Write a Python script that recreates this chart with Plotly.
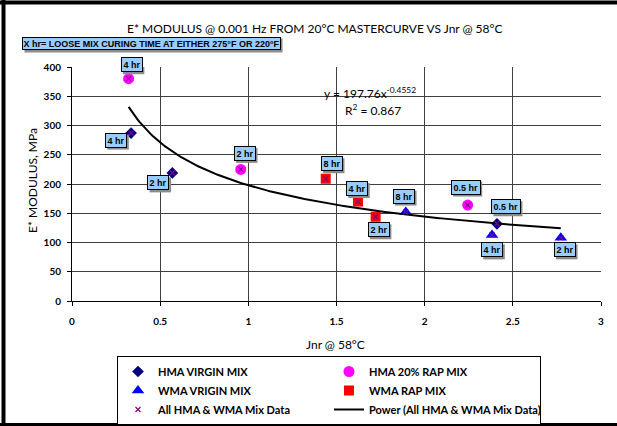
import numpy as np
import plotly.graph_objects as go

# ---------------- data ----------------
HMA_VIRGIN_JNR = [0.335, 0.569, 2.41]
HMA_VIRGIN_E = [287, 219, 132]
HMA_VIRGIN_LBL = ["4 hr", "2 hr", "0.5 hr"]

HMA_RAP_JNR = [0.321, 0.957, 2.244]
HMA_RAP_E = [380, 225, 164]
HMA_RAP_LBL = ["4 hr", "2 hr", "0.5 hr"]

WMA_VIRGIN_JNR = [1.893, 2.382, 2.772]
WMA_VIRGIN_E = [152, 113, 108]
WMA_VIRGIN_LBL = ["8 hr", "4 hr", "2 hr"]

WMA_RAP_JNR = [1.439, 1.622, 1.722]
WMA_RAP_E = [209, 170, 144]
WMA_RAP_LBL = ["8 hr", "4 hr", "2 hr"]

POWER_A = 197.76
POWER_B = -0.4552
R_SQUARED = 0.867

X_TICKS = [0, 0.5, 1, 1.5, 2, 2.5, 3]
Y_TICKS = [0, 50, 100, 150, 200, 250, 300, 350, 400]

TITLE = "E* MODULUS @ 0.001 Hz FROM 20°C MASTERCURVE VS Jnr @ 58°C"
NOTE = "X hr= LOOSE MIX CURING TIME AT EITHER 275°F OR 220°F"
X_TITLE = "Jnr @ 58°C"
Y_TITLE = "E* MODULUS, MPa"

# ---------------- layout helpers ----------------
W, H = 617, 426
ML, MR, MT, MB = 72, 16, 67, 125
PW, PH = W - ML - MR, H - MT - MB


def pxx(x):
    return (x - ML) / PW


def pxy(y):
    return (H - MB - y) / PH


FONT = "Lato, 'Open Sans', sans-serif"
BOXFONT = "Arial, 'Liberation Sans', sans-serif"
BOXFILL = "#99CCFF"
SHADOW = "#8c8c8c"

# approx Arial-bold advance widths (per 1000 em) for label box shadows
ARIAL_B = {"0": 556, "1": 556, "2": 556, "4": 556, "5": 556, "8": 556,
           ".": 278, " ": 278, "h": 611, "r": 389}
LBL_FS = 9
LBL_PAD = 1.5

# label offsets (pixels, right / down) for each point's time label
LABEL_OFFSETS = {
    "hv": [(-15, 7), (-14, 10), (9, -17)],
    "hr": [(3, -14), (4, -16), (-2, -18)],
    "wv": [(-2, -16), (0, 15), (4, 12)],
    "wr": [(6, -15), (-1, -13), (3, 13)],
}

fig = go.Figure()

series = [
    ("hv", "HMA VIRGIN MIX", HMA_VIRGIN_JNR, HMA_VIRGIN_E, HMA_VIRGIN_LBL,
     dict(symbol="diamond", size=9, color="#000080"), 1),
    ("hr", "HMA 20% RAP MIX", HMA_RAP_JNR, HMA_RAP_E, HMA_RAP_LBL,
     dict(symbol="circle", size=11, color="#FF00FF"), 2),
    ("wv", "WMA VRIGIN MIX", WMA_VIRGIN_JNR, WMA_VIRGIN_E, WMA_VIRGIN_LBL,
     dict(symbol="triangle-up", size=11, color="#0000FF"), 3),
    ("wr", "WMA RAP MIX", WMA_RAP_JNR, WMA_RAP_E, WMA_RAP_LBL,
     dict(symbol="square", size=10, color="#FF0000"), 4),
]

for key, name, xs, ys, lbls, mk, rank in series:
    fig.add_trace(go.Scatter(x=xs, y=ys, mode="markers", name=name,
                             marker=dict(line=dict(width=0), **mk),
                             legendrank=rank))

all_x = HMA_VIRGIN_JNR + HMA_RAP_JNR + WMA_VIRGIN_JNR + WMA_RAP_JNR
all_y = HMA_VIRGIN_E + HMA_RAP_E + WMA_VIRGIN_E + WMA_RAP_E

xf = np.linspace(min(all_x), max(all_x), 200)
yf = POWER_A * xf ** POWER_B
fig.add_trace(go.Scatter(x=xf, y=yf, mode="lines",
                         name="Power (All HMA & WMA Mix Data)",
                         line=dict(color="black", width=2), legendrank=6))

fig.add_trace(go.Scatter(x=all_x, y=all_y, mode="markers",
                         name="All HMA & WMA Mix Data",
                         marker=dict(symbol="x-thin", size=5, color="#800080",
                                     line=dict(width=1.2, color="#800080")),
                         legendrank=5))

annotations = []
shapes = []
# point labels (boxes with drop shadow drawn as pixel-sized shapes)
for key, name, xs, ys, lbls, mk, rank in series:
    for (x, y, t, (dx, dy)) in zip(xs, ys, lbls, LABEL_OFFSETS[key]):
        tw = sum(ARIAL_B.get(c, 556) for c in t) * LBL_FS / 1000.0
        bw = tw + 2 * (LBL_PAD + 1)
        bh = 15
        cx, cy = dx + 2, -(dy + 2)
        shapes.append(dict(type="rect", xref="x", yref="y",
                           xsizemode="pixel", ysizemode="pixel",
                           xanchor=x, yanchor=y,
                           x0=cx - bw / 2, x1=cx + bw / 2,
                           y0=cy - bh / 2, y1=cy + bh / 2,
                           fillcolor=SHADOW, line=dict(width=0), layer="above"))
        annotations.append(dict(x=x, y=y, xref="x", yref="y", text="<b>%s</b>" % t,
                                showarrow=False, xshift=dx, yshift=-dy,
                                xanchor="center", yanchor="middle",
                                font=dict(family=BOXFONT, size=LBL_FS, color="black"),
                                bgcolor=BOXFILL, bordercolor="black",
                                borderwidth=1, borderpad=LBL_PAD))


def paper_text(xp, yp, text, size=12, angle=0, **kw):
    d = dict(x=pxx(xp), y=pxy(yp), xref="paper", yref="paper", text=text,
             showarrow=False, xanchor="center", yanchor="middle", textangle=angle,
             font=dict(family=FONT, size=size, color="black"))
    d.update(kw)
    return d


annotations.append(paper_text(315, 29, TITLE, 12))
# note box with shadow
shapes.append(dict(type="rect", xref="paper", yref="paper",
                   x0=pxx(24.5), x1=pxx(282.5), y0=pxy(52.5), y1=pxy(38.5),
                   fillcolor=SHADOW, line=dict(width=0)))
annotations.append(paper_text(151.5, 43.5, "<b>%s</b>" % NOTE,
                              font=dict(family=BOXFONT, size=9, color="black"),
                              bgcolor=BOXFILL, bordercolor="black",
                              borderwidth=1, borderpad=0.5))
# equation
annotations.append(paper_text(370, 93, "y = %.2fx<sup>%.4f</sup>" % (POWER_A, POWER_B)))
annotations.append(paper_text(373, 110, "R<sup>2</sup> = %.3f" % R_SQUARED))
# axis titles
annotations.append(paper_text(335, 344, X_TITLE))
annotations.append(paper_text(32, 181, Y_TITLE, angle=-90))

shapes += [
    # outer frame (left, top, bottom)
    dict(type="line", xref="paper", yref="paper", x0=pxx(3.5), x1=pxx(3.5),
         y0=pxy(0), y1=pxy(426), line=dict(color="black", width=4)),
    dict(type="line", xref="paper", yref="paper", x0=pxx(0), x1=pxx(617),
         y0=pxy(2.5), y1=pxy(2.5), line=dict(color="black", width=4)),
    dict(type="line", xref="paper", yref="paper", x0=pxx(0), x1=pxx(617),
         y0=pxy(424.5), y1=pxy(424.5), line=dict(color="black", width=3)),
]

axis_common = dict(showgrid=True, gridcolor="#404040", gridwidth=1,
                   showline=True, linecolor="black", linewidth=1,
                   ticks="outside", ticklen=4, tickcolor="black",
                   zeroline=False, fixedrange=True,
                   tickfont=dict(family=FONT, size=10, color="black", weight="bold"))

fig.update_layout(
    width=W, height=H,
    margin=dict(l=ML, r=MR, t=MT, b=MB, autoexpand=False),
    paper_bgcolor="white", plot_bgcolor="white",
    showlegend=True,
    legend=dict(orientation="h", x=pxx(117), y=pxy(356), xanchor="left", yanchor="top",
                entrywidth=166, entrywidthmode="pixels",
                bordercolor="black", borderwidth=1, bgcolor="white",
                font=dict(family=FONT, size=11, color="black", weight="bold"),
                traceorder="normal", itemwidth=30),
    xaxis=dict(range=[0, 3], tickvals=X_TICKS, ticklabelstandoff=7, **axis_common),
    yaxis=dict(range=[0, 400], tickvals=Y_TICKS, ticklabelstandoff=4, **axis_common),
    annotations=annotations,
    shapes=shapes,
)

fig.write_html("out.html", config={"displayModeBar": False},
               post_script="document.body.style.margin='0px';")
